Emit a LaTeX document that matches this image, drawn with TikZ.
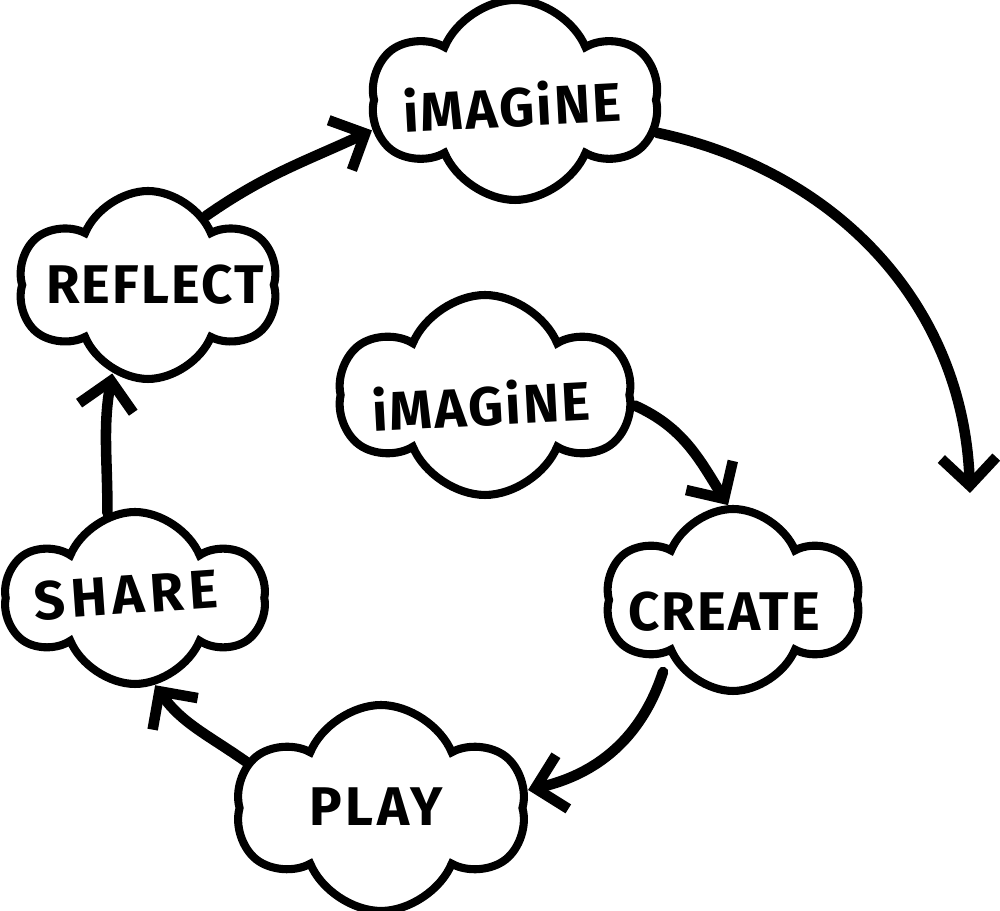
\documentclass[tikz,border=0pt]{standalone}
\usepackage{fontspec}
\setmainfont{Fira Sans}
\usetikzlibrary{shapes.symbols,arrows.meta,calc}
\begin{document}
\begin{tikzpicture}[x=0.02cm,y=0.02cm,
  cloudsty/.style={cloud, cloud puffs=6, cloud puff arc=135, cloud ignores aspect, draw=black, line width=4.6pt, fill=white, inner sep=0pt},
  lbl/.style={font=\fontsize{31}{33}\selectfont\bfseries\addfontfeatures{LetterSpace=4}, inner sep=0pt},
  widelbl/.style={font=\fontsize{31}{33}\selectfont\bfseries\addfontfeatures{LetterSpace=10}, inner sep=0pt},
  flow/.style={line width=6pt, line cap=round, -{Straight Barb[length=5.5mm,width=11mm]}}
]
\useasboundingbox (0,0) rectangle (1000,911);
\node[cloudsty, minimum width=5.7cm, minimum height=4.0cm] (imtop) at (515,811) {};
\node[cloudsty, minimum width=5.16cm, minimum height=3.76cm] (reflect) at (148,626) {};
\node[cloudsty, minimum width=5.8cm, minimum height=4.0cm] (imc) at (485,516) {};
\node[cloudsty, minimum width=5.06cm, minimum height=3.64cm] (create) at (733,311) {};
\node[cloudsty, minimum width=5.14cm, minimum height=3.44cm] (share) at (135,313) {};
\node[cloudsty, minimum width=5.76cm, minimum height=4.12cm] (play) at (381,103) {};
\node[lbl, rotate=3] (imtopT) at (512,806) {iMAGiNE};
\node[lbl] (reflectT) at (155,626) {REFLECT};
\node[lbl, rotate=3] (imcT) at (481,507) {iMAGiNE};
\node[lbl] (createT) at (724,299) {CREATE};
\node[widelbl, rotate=4] (shareT) at (126,316) {SHARE};
\node[lbl, font=\fontsize{31}{33}\selectfont\bfseries\addfontfeatures{LetterSpace=7}] (playT) at (376,104) {PLAY};
\coordinate (endpt) at (970,418);
\draw[flow] (imc.-4) to[out=-24,in=122] (create.93);
\draw[flow] ($(create.center)+(-70,-72)$) to[out=-108,in=13] (play.7);
\draw[flow] (play.161) to[out=145,in=-55] (share.283);
\draw[flow] (share.108) to[out=90,in=-100] (reflect.248);
\draw[flow] (reflect.50) to[out=35,in=-155] (imtop.192);
\draw[flow] (imtop.-13) to[out=-12,in=92] (endpt);
\end{tikzpicture}
\end{document}
